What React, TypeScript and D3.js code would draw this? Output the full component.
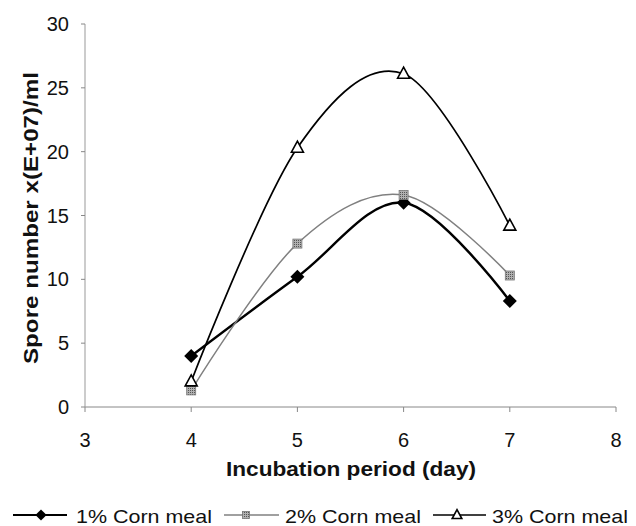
import React from "react";
import * as d3 from "d3";

const days = [4, 5, 6, 7];
const seriesNames = ["1% Corn meal", "2% Corn meal", "3% Corn meal"];
const cornMeal1 = [4.0, 10.2, 16.0, 8.3];
const cornMeal2 = [1.3, 12.8, 16.6, 10.3];
const cornMeal3 = [2.0, 20.3, 26.1, 14.2];
const xTicks = [3, 4, 5, 6, 7, 8];
const yTicks = [0, 5, 10, 15, 20, 25, 30];

const W = 636;
const H = 526;
const FONT = "'Liberation Sans', Arial, Helvetica, sans-serif";

const x = d3.scaleLinear().domain([3, 8]).range([85, 616]);
const y = d3.scaleLinear().domain([0, 30]).range([407, 24]);

type Kind = "diamond" | "square" | "triangle";

function Marker({ kind, cx, cy, k = 1 }: { kind: Kind; cx: number; cy: number; k?: number }) {
  if (kind === "diamond") {
    const r = 7 * k;
    return (
      <path
        d={`M${cx},${cy - r}L${cx + r},${cy}L${cx},${cy + r}L${cx - r},${cy}Z`}
        fill="#000"
      />
    );
  }
  if (kind === "square") {
    const s = 9 * k;
    return (
      <rect
        x={cx - s / 2}
        y={cy - s / 2}
        width={s}
        height={s}
        fill="url(#hatch)"
        stroke="#777"
        strokeWidth={0.8}
      />
    );
  }
  const h = 11 * k;
  const w = 12 * k;
  return (
    <path
      d={`M${cx},${cy - h * 0.6}L${cx + w / 2},${cy + h * 0.4}L${cx - w / 2},${cy + h * 0.4}Z`}
      fill="#fff"
      stroke="#000"
      strokeWidth={1.6}
      strokeLinejoin="miter"
    />
  );
}

const series: { name: string; values: number[]; color: string; width: number; kind: Kind }[] = [
  { name: seriesNames[0], values: cornMeal1, color: "#000", width: 2.4, kind: "diamond" },
  { name: seriesNames[1], values: cornMeal2, color: "#808080", width: 1.5, kind: "square" },
  { name: seriesNames[2], values: cornMeal3, color: "#000", width: 1.7, kind: "triangle" },
];

const line = d3
  .line<[number, number]>()
  .x((d) => x(d[0]))
  .y((d) => y(d[1]))
  .curve(d3.curveCardinal.tension(0));

const legendItems = [
  { x0: 13, x1: 67, mx: 41, tx: 76 },
  { x0: 224, x1: 279, mx: 246, tx: 285 },
  { x0: 433, x1: 486, mx: 457, tx: 492 },
];

export default function App() {
  return (
    <svg
      width={W}
      height={H}
      style={{ position: "absolute", left: 0, top: 0, background: "#fff" }}
      fontFamily={FONT}
    >
      <defs>
        <pattern id="hatch" width="2" height="2" patternUnits="userSpaceOnUse">
          <rect width="2" height="2" fill="#b0b0b0" />
          <rect width="1" height="1" fill="#555" />
        </pattern>
      </defs>
      <rect width={W} height={H} fill="#fff" />

      {/* axes */}
      <line x1={x(3)} x2={x(8)} y1={y(0)} y2={y(0)} stroke="#888" strokeWidth={1} />
      <line x1={x(3)} x2={x(3)} y1={y(0)} y2={y(30)} stroke="#999" strokeWidth={1} />
      {yTicks.map((t) => (
        <g key={`y${t}`}>
          <line x1={x(3) - 4} x2={x(3)} y1={y(t)} y2={y(t)} stroke="#888" />
          <text
            x={69}
            y={y(t)}
            textAnchor="end"
            dominantBaseline="central"
            fontSize={20}
            fill="#111"
          >
            {t}
          </text>
        </g>
      ))}
      {xTicks.map((t) => (
        <g key={`x${t}`}>
          <line x1={x(t)} x2={x(t)} y1={y(0)} y2={y(0) + 5} stroke="#888" />
          <text
            x={x(t)}
            y={440}
            textAnchor="middle"
            dominantBaseline="central"
            fontSize={20}
            fill="#111"
          >
            {t}
          </text>
        </g>
      ))}

      <text
        x={351}
        y={468}
        textAnchor="middle"
        dominantBaseline="central"
        fontSize={21}
        fontWeight="bold"
        fill="#111"
        textLength={250}
        lengthAdjust="spacingAndGlyphs"
      >
        Incubation period (day)
      </text>
      <text
        transform={`translate(30,218) rotate(-90)`}
        textAnchor="middle"
        dominantBaseline="central"
        fontSize={21}
        fontWeight="bold"
        fill="#111"
        textLength={292}
        lengthAdjust="spacingAndGlyphs"
      >
        Spore number x(E+07)/ml
      </text>

      {/* series */}
      {series.map((s) => (
        <g key={s.name}>
          <path
            d={line(days.map((d, i) => [d, s.values[i]] as [number, number])) || ""}
            fill="none"
            stroke={s.color}
            strokeWidth={s.width}
          />
          {days.map((d, i) => (
            <Marker key={d} kind={s.kind} cx={x(d)} cy={y(s.values[i])} />
          ))}
        </g>
      ))}

      {/* legend */}
      {series.map((s, i) => {
        const L = legendItems[i];
        return (
          <g key={`lg${i}`}>
            <line
              x1={L.x0}
              x2={L.x1}
              y1={515}
              y2={515}
              stroke={s.color}
              strokeWidth={i === 0 ? 2 : 1.3}
            />
            <Marker kind={s.kind} cx={L.mx} cy={515} k={0.8} />
            <text
              x={L.tx}
              y={516}
              dominantBaseline="central"
              fontSize={19}
              fill="#111"
              textLength={136}
              lengthAdjust="spacingAndGlyphs"
            >
              {s.name}
            </text>
          </g>
        );
      })}
    </svg>
  );
}
